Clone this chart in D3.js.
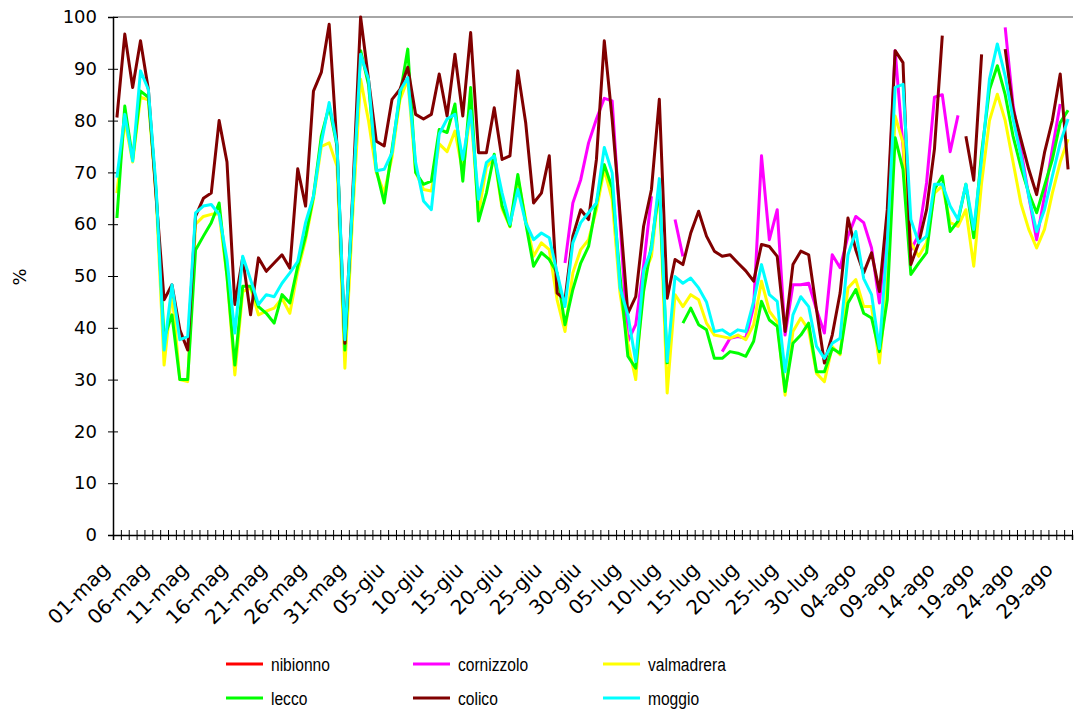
<!DOCTYPE html>
<html>
<head>
<meta charset="utf-8">
<script src="https://cdn.jsdelivr.net/npm/d3@7"></script>
<style>
  body { margin: 0; background: #fff; }
  svg text { font-family: "DejaVu Sans", Verdana, sans-serif; fill: #000; }
</style>
</head>
<body>
<svg id="chart" width="1076" height="716"></svg>
<script>
// categories: one per day, 01-mag .. 30-ago
var dates = [
  "01-mag","02-mag","03-mag","04-mag","05-mag","06-mag","07-mag","08-mag","09-mag","10-mag",
  "11-mag","12-mag","13-mag","14-mag","15-mag","16-mag","17-mag","18-mag","19-mag","20-mag",
  "21-mag","22-mag","23-mag","24-mag","25-mag","26-mag","27-mag","28-mag","29-mag","30-mag","31-mag",
  "01-giu","02-giu","03-giu","04-giu","05-giu","06-giu","07-giu","08-giu","09-giu","10-giu",
  "11-giu","12-giu","13-giu","14-giu","15-giu","16-giu","17-giu","18-giu","19-giu","20-giu",
  "21-giu","22-giu","23-giu","24-giu","25-giu","26-giu","27-giu","28-giu","29-giu","30-giu",
  "01-lug","02-lug","03-lug","04-lug","05-lug","06-lug","07-lug","08-lug","09-lug","10-lug",
  "11-lug","12-lug","13-lug","14-lug","15-lug","16-lug","17-lug","18-lug","19-lug","20-lug",
  "21-lug","22-lug","23-lug","24-lug","25-lug","26-lug","27-lug","28-lug","29-lug","30-lug","31-lug",
  "01-ago","02-ago","03-ago","04-ago","05-ago","06-ago","07-ago","08-ago","09-ago","10-ago",
  "11-ago","12-ago","13-ago","14-ago","15-ago","16-ago","17-ago","18-ago","19-ago","20-ago",
  "21-ago","22-ago","23-ago","24-ago","25-ago","26-ago","27-ago","28-ago","29-ago","30-ago"
];

var yTicks = [0, 10, 20, 30, 40, 50, 60, 70, 80, 90, 100];

var _ = null;

var nibionno = dates.map(function () { return null; });

var cornizzolo = [
  _,_,_,_,_,_,_,_,_,_, _,_,_,_,_,_,_,_,_,_, _,_,_,_,_,_,_,_,_,_, _,
  _,_,_,_,_,_,_,_,_,_, _,_,_,_,_,_,_,_,_,_, _,_,_,_,_,_,52.5,64.1,68.6,75.7,
  80.3,84.3,83.8,60.5,37.4,40.6,52,65.4,_,_, 60.9,53.8,_,_,_,_,35.4,38,38.3,38, 44.1,73.2,57,62.8,38.6,48.3,48.3,48.6,43.5,39,54.1,
  51.6,57.7,61.5,60.3,55.4,44.8,60,93.5,75,55, 58,68,84.5,85,74,81,_,_,_,_, _,98,83,74.5,65.4,57,65.4,74.5,83.2,_
];

var valmadrera = [
  66,80,72,84.5,84,65,32.8,47,30,29.6, 60,61.5,61.9,62,50,30.9,47,47.7,42.5,43.2,
  43.8,45.7,42.8,50.9,57,64.8,75,75.7,71.2,32.2,62,
  88,80,70,66,73,84,88,70,66.7,66.4, 75.5,74,78,70,82,62,71,73,63,59.5,
  69,61,53.8,56.4,55.1,45.4,39.3,50.6,55.1,57,
  62.8,70.6,64.8,46.7,37,30,50,53.8,67.4,27.4, 46.4,44.1,46.4,45.4,40.9,38.6,38.3,38,38.6,37.7,
  40.6,49,43.2,41.2,27,39.3,41.9,39.6,31.2,29.6,36.4,
  34.8,47.7,49.3,44.1,44.1,33.2,48.6,80.9,75.7,56.4, 53.8,56.4,66,67.4,60.3,59.6,62.8,51.9,68,80,
  85.1,80,72,64,59,55.4,59,66,72,76.4
];

var lecco = [
  61.2,82.8,72.5,85.7,84.5,66,38,42.5,30,30, 55,57.7,60.3,64.1,50,32.8,48,48,44.1,42.8,
  40.9,46.4,44.8,51.9,57.7,65.4,77,82.8,75,35.7,65,
  93.5,87,70.5,64.1,74.5,84.8,93.8,70,67.7,68.3, 78.3,77.7,83.2,68.3,86.4,60.6,66,73.5,63.5,59.6,
  69.6,60.3,51.9,54.5,53.2,50.6,40.6,47.4,52.5,55.7,
  64.1,71.5,67,50,34.5,32.2,47,56,67,33, _,40.9,43.8,40.6,39.6,34.1,34.1,35.4,35.1,34.5,
  37.4,45.1,41.5,40.3,27.7,37,38.6,40.9,31.5,31.5,36,
  35.1,44.8,47.4,42.8,41.9,35.4,45.4,76.7,70.6,50.3, 52.5,54.5,66.7,69.3,58.6,60.6,67.7,57.4,73.8,86,
  90.6,85,77,71,66,62.2,67.4,72.5,79.6,82
];

var colico = [
  80.6,96.7,86.4,95.4,86,65,45.4,48.3,39.6,35.7, 61.5,65,66,80,72,44.5,53.5,42.5,53.5,50.9,
  52.5,54.1,51.5,70.7,63.5,85.7,89.3,98.6,75,37,66,
  100,88,76,75.1,84.1,86,90.3,81.2,80.3,81.2, 89,80.9,92.8,80.9,97,73.8,73.8,82.5,72.5,73.2,
  89.6,79.6,64.1,66,73.2,46.7,45.4,57.7,62.8,60.9,
  72.5,95.4,80.3,62,42.8,46,59.6,66.7,84.1,45.7, 53.2,52.2,58.3,62.5,57.7,54.8,53.8,54.1,52.5,51,
  49,56.1,55.7,53.8,39.3,52.2,54.8,54.1,43.5,33.2,38.6,
  46.7,61.2,55,50.6,54.5,47,62.8,93.5,91.2,52.2, 56.4,62.8,74.5,96.4,_,_,77,68.5,92.8,_,
  _,93.8,82.2,76.4,70.6,65.7,73.8,80,89,70.6
];

var moggio = [
  69,81.2,72.2,89.6,86,66.7,35.7,48.3,37.7,38.3, 62.2,63.5,63.8,61.9,53.2,39,53.8,49.3,44.5,46.4,
  46,48.6,50.6,52.8,60.3,65.4,75.7,83.5,75.4,37.7,65,
  92.8,88,70.3,70.6,73.8,85.7,88.3,71.9,64.5,62.8, 77.4,80.3,81.2,72.5,81.9,64.8,71.9,73.2,66,60,
  66.7,60.3,57,58.3,57.4,50.6,44.1,56.4,60.3,62.2,
  64.1,74.8,69.9,47.7,42.5,33.5,51,55.2,68.8,33.5, 49.9,48.6,49.6,47.7,45,39.3,39.6,38.6,39.6,39.3,
  45.1,52.2,46.4,45.1,31.5,42.5,46,44.1,36.4,34.1,37,
  38,54.1,58.6,49.5,46.4,36,56.4,86.4,87,60.9, 56.4,57.7,67.7,67.7,63.5,60.9,67.7,59,72.5,88,
  94.8,88.6,80.3,73.2,65.4,58.6,62.8,69.3,75.7,80.3
];

var seriesNames = ["nibionno", "cornizzolo", "valmadrera", "lecco", "colico", "moggio"];
var seriesColors = ["#ff0000", "#ff00ff", "#ffff00", "#00ff00", "#800000", "#00ffff"];
var seriesData = [nibionno, cornizzolo, valmadrera, lecco, colico, moggio];

var plotLeft = 113, plotRight = 1072, plotTop = 17, plotBottom = 535;

var svg = d3.select("#chart");

var x = d3.scaleBand().domain(d3.range(dates.length)).range([plotLeft, plotRight]).padding(0);
var xb = d3.scaleLinear().domain([0, dates.length]).range([plotLeft, plotRight]);
var y = d3.scaleLinear().domain([0, 100]).range([plotBottom, plotTop]);

function cx(i) { return x(i) + x.bandwidth() / 2; }

// top border of plot area
svg.append("line")
  .attr("x1", plotLeft).attr("x2", plotRight + 1)
  .attr("y1", plotTop).attr("y2", plotTop)
  .attr("stroke", "#888").attr("stroke-width", 1.5);

// y axis
var yAxis = svg.append("g")
  .attr("transform", "translate(" + plotLeft + ",0)")
  .call(d3.axisLeft(y).tickValues(yTicks).tickSize(5).tickPadding(11));
yAxis.select(".domain").attr("stroke", "#000").attr("stroke-width", 1.5);
yAxis.selectAll(".tick line").attr("x1", -5).attr("x2", 5).attr("stroke", "#000");
yAxis.selectAll(".tick text").style("font-size", "18px").style("font-family", "'DejaVu Sans', Verdana, sans-serif");

// x axis (ticks between categories)
var xAxis = svg.append("g")
  .attr("transform", "translate(0," + plotBottom + ")")
  .call(d3.axisBottom(xb).tickValues(d3.range(dates.length + 1)).tickFormat("").tickSize(5));
xAxis.select(".domain").attr("stroke", "#000").attr("stroke-width", 1.5);
xAxis.selectAll(".tick line").attr("y1", -5).attr("y2", 5).attr("stroke", "#000");

// category labels every 5 days
svg.append("g").selectAll("text")
  .data(dates.map(function (d, i) { return { d: d, i: i }; }).filter(function (o) { return o.i % 5 === 0; }))
  .enter().append("text")
  .attr("transform", function (o) { return "translate(" + (cx(o.i) - 11) + "," + (plotBottom + 31) + ") rotate(-45)"; })
  .attr("text-anchor", "end")
  .attr("dy", "0.35em")
  .style("font-size", "20px")
  .text(function (o) { return o.d; });

// y title
svg.append("text")
  .attr("transform", "translate(26,277) rotate(-90)")
  .attr("text-anchor", "middle")
  .style("font-size", "18px")
  .text("%");

// series lines
var line = d3.line()
  .defined(function (d) { return d != null; })
  .x(function (d, i) { return cx(i); })
  .y(function (d) { return y(d); });

seriesData.forEach(function (values, k) {
  svg.append("path")
    .datum(values)
    .attr("fill", "none")
    .attr("stroke", seriesColors[k])
    .attr("stroke-width", 3)
    .attr("stroke-linejoin", "round")
    .attr("d", line);
});

// legend
var legCols = [226, 413, 603];
var legRows = [664, 698];
var legend = svg.append("g");
seriesNames.forEach(function (name, k) {
  var lx = legCols[k % 3], ly = legRows[Math.floor(k / 3)];
  legend.append("line")
    .attr("x1", lx).attr("x2", lx + 37)
    .attr("y1", ly).attr("y2", ly)
    .attr("stroke", seriesColors[k]).attr("stroke-width", 3);
  legend.append("text")
    .attr("transform", "translate(" + (lx + 45) + "," + ly + ") scale(0.82,1)")
    .attr("dy", "0.35em")
    .style("font-family", "'Liberation Sans', Arial, sans-serif")
    .style("font-size", "19px")
    .text(name);
});
</script>
</body>
</html>
